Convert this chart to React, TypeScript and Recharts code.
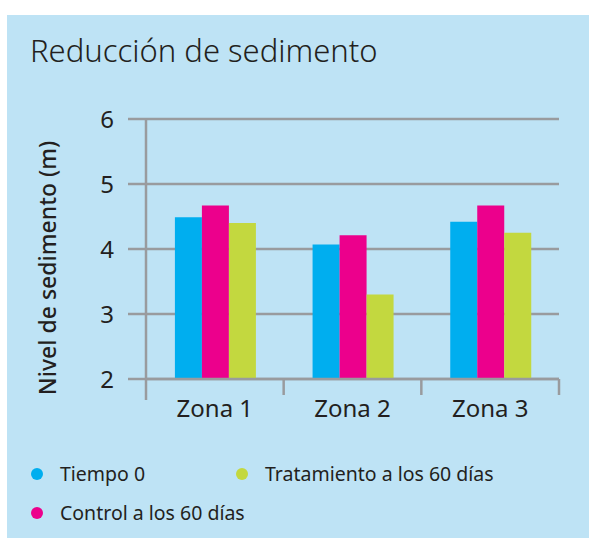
import { Bar, BarChart, CartesianGrid, Legend, XAxis, YAxis } from "recharts";

const ZONES = ["Zona 1", "Zona 2", "Zona 3"];
const TIEMPO_0 = [4.49, 4.07, 4.42];
const CONTROL_60 = [4.67, 4.21, 4.67];
const TRATAMIENTO_60 = [4.4, 3.3, 4.25];
const Y_TICKS = [2, 3, 4, 5, 6];

const SERIES = [
  { key: "tiempo0", name: "Tiempo 0", color: "#00aeef" },
  { key: "control", name: "Control a los 60 días", color: "#ec008c" },
  { key: "tratamiento", name: "Tratamiento a los 60 días", color: "#c3d83f" },
];

const data = ZONES.map((zone, i) => ({
  zone,
  tiempo0: TIEMPO_0[i],
  control: CONTROL_60[i],
  tratamiento: TRATAMIENTO_60[i],
}));

const FONT = '"Noto Sans", sans-serif';
const INK = "#231f20";
const LINE = "#999b9e";
const PANEL = "#bee3f5";

function ZoneTick(props: any) {
  const { x, y, payload, index, visibleTicksCount } = props;
  const half = payload?.offset ?? 0;
  const left = x - half;
  const right = x + half;
  return (
    <g>
      <line x1={left} x2={left} y1={y} y2={y + (index === 0 ? 21 : 16)} stroke={LINE} strokeWidth={2.5} />
      {index === visibleTicksCount - 1 ? (
        <line x1={right} x2={right} y1={y} y2={y + 16} stroke={LINE} strokeWidth={2.5} />
      ) : null}
      <text x={x} y={y + 38} textAnchor="middle" fill={INK} fontSize={24} fontFamily={FONT}>
        {payload.value}
      </text>
    </g>
  );
}

function YLabel(props: any) {
  const { viewBox } = props;
  const cx = viewBox.x - 30;
  const cy = viewBox.y + viewBox.height / 2 + 19;
  return (
    <text
      x={cx}
      y={cy}
      transform={`rotate(-90 ${cx} ${cy})`}
      textAnchor="middle"
      fill={INK}
      fontSize={23}
      fontWeight={500}
      fontFamily={FONT}
    >
      Nivel de sedimento (m)
    </text>
  );
}

// legend keeps the series order: column 1 = Tiempo 0, Control; column 2 = Tratamiento
function LegendGrid() {
  return (
    <div
      style={{
        display: "grid",
        gridAutoFlow: "column",
        gridTemplateRows: "repeat(2, 39px)",
        gridTemplateColumns: "205px auto",
        paddingLeft: 31,
        height: 80,
        fontFamily: FONT,
        fontSize: 19.5,
        color: INK,
      }}
    >
      {SERIES.map((s) => (
        <div key={s.key} style={{ display: "flex", alignItems: "center", whiteSpace: "nowrap" }}>
          <span
            style={{
              width: 12,
              height: 12,
              borderRadius: "50%",
              background: s.color,
              marginRight: 17,
              flex: "none",
            }}
          />
          <span>{s.name}</span>
        </div>
      ))}
    </div>
  );
}

export default function App() {
  return (
    <div style={{ position: "absolute", left: 0, top: 0, width: 589, height: 540, background: "#fff" }}>
      <div style={{ position: "absolute", left: 7, top: 15, width: 582, height: 523, background: PANEL }} />
      <div
        style={{
          position: "absolute",
          left: 30,
          top: 35,
          fontFamily: FONT,
          fontSize: 31,
          fontWeight: 300,
          lineHeight: 1,
          color: INK,
          whiteSpace: "nowrap",
        }}
      >
        Reducción de sedimento
      </div>
      <div style={{ position: "absolute", left: 0, top: 0 }}>
        <BarChart
          width={589}
          height={540}
          data={data}
          margin={{ top: 119, right: 30, bottom: 6, left: 86 }}
          barCategoryGap="21%"
          barGap={0}
        >
          <CartesianGrid vertical={false} stroke={LINE} strokeWidth={2.5} />
          <XAxis
            dataKey="zone"
            height={75}
            axisLine={{ stroke: LINE, strokeWidth: 2.5 }}
            tickLine={false}
            tickSize={0}
            tickMargin={0}
            tick={<ZoneTick />}
            interval={0}
          />
          <YAxis
            width={60}
            domain={[2, 6]}
            ticks={Y_TICKS}
            allowDataOverflow
            axisLine={{ stroke: LINE, strokeWidth: 2.5 }}
            tickLine={{ stroke: LINE, strokeWidth: 2.5 }}
            tickSize={18}
            tickMargin={14}
            tick={{ fill: INK, fontSize: 24, fontFamily: FONT }}
            label={<YLabel />}
          />
          <Legend
            verticalAlign="bottom"
            height={80}
            wrapperStyle={{ left: 0, width: 589 }}
            content={<LegendGrid />}
          />
          {SERIES.map((s) => (
            <Bar key={s.key} dataKey={s.key} name={s.name} fill={s.color} isAnimationActive={false} />
          ))}
        </BarChart>
      </div>
    </div>
  );
}
